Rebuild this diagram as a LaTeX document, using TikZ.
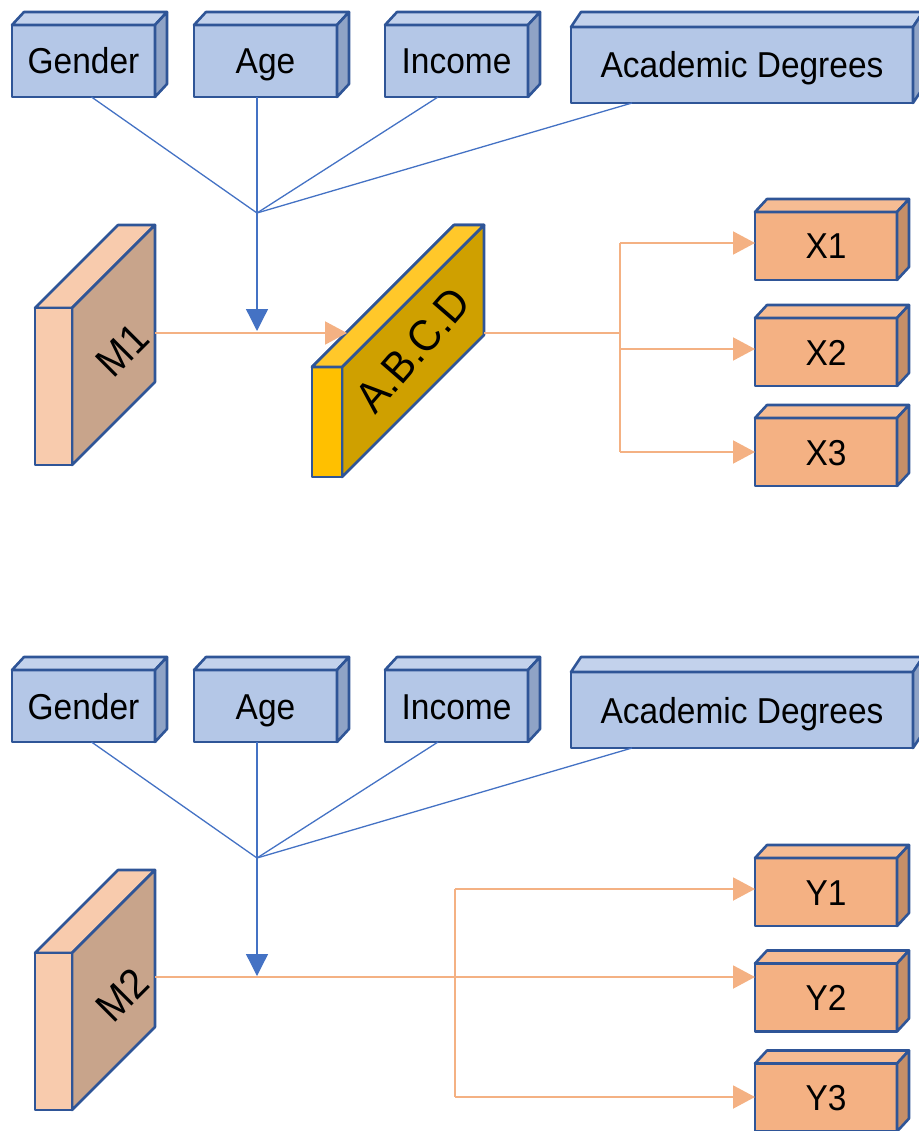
\documentclass[tikz,border=0pt]{standalone}
\usepackage{fontspec}
\setmainfont[FakeStretch=0.93]{Liberation Sans}
\usetikzlibrary{arrows.meta,calc}

\definecolor{rim}{HTML}{2F5597}
\definecolor{bfront}{HTML}{B4C7E7}
\definecolor{btop}{HTML}{C3D2EC}
\definecolor{bside}{HTML}{8FA3C6}
\definecolor{ofront}{HTML}{F4B183}
\definecolor{otop}{HTML}{F6BC93}
\definecolor{oside}{HTML}{C68F68}
\definecolor{mfront}{HTML}{F8CBAD}
\definecolor{mside}{HTML}{C8A48B}
\definecolor{yfront}{HTML}{FFC000}
\definecolor{ytop}{HTML}{FFC82A}
\definecolor{yside}{HTML}{CFA000}
\definecolor{wire}{HTML}{4472C4}
\definecolor{flow}{HTML}{F4B183}

\tikzset{
  x=1pt, y=-1pt,
  edge/.style={draw=rim, line width=2.6pt, line join=round},
  face/.style={edge, rectangle, outer sep=0pt, inner sep=0pt,
    text height=26pt, text depth=0pt,
    font=\fontsize{36}{40}\selectfont},
  factor/.style={face, fill=bfront, minimum height=72pt},
  target/.style={face, fill=ofront, minimum width=142pt, minimum height=68pt},
  slabtext/.style={inner sep=0pt},
  feed/.style={draw=wire, line width=1.3pt},
  feedarrow/.style={feed, -{Triangle[length=22pt,width=22pt]}},
  path/.style={draw=flow, line width=2pt},
  patharrow/.style={path, -{Triangle[length=22pt,width=23pt]}},
}

% top and right faces of a box whose front face is node #1
\newcommand\boxsides[5]{%
  \filldraw[edge, fill=#4] (#1.north west) -- ++(#2,-#3)
    -- ($(#1.north east)+(#2,-#3)$) -- (#1.north east) -- cycle;
  \filldraw[edge, fill=#5] (#1.north east) -- ($(#1.north east)+(#2,-#3)$)
    -- ($(#1.south east)+(#2,-#3)$) -- (#1.south east) -- cycle;
}

% row of demographic factors feeding one hub; #1 prefix, #2 vertical offset
\newcommand\factorrow[2]{%
  \node[factor, minimum width=143pt] (#1gender) at (83.5,61+#2) {Gender};
  \boxsides{#1gender}{12}{13}{btop}{bside}
  \node[factor, minimum width=143pt] (#1age) at (265.5,61+#2) {Age\hspace{16pt}};
  \boxsides{#1age}{12}{13}{btop}{bside}
  \node[factor, minimum width=143pt] (#1income) at (456.5,61+#2) {Income};
  \boxsides{#1income}{12}{13}{btop}{bside}
  \node[factor, minimum width=342pt, minimum height=76pt] (#1degree) at (742,65+#2) {Academic Degrees\hspace{14pt}};
  \boxsides{#1degree}{10}{15}{btop}{bside}
  \coordinate (#1hub) at (257,213+#2);
  \coordinate (#1drop) at (257,331+#2);
  \draw[feed] ($(#1gender.south)+(8,0)$) -- (#1hub);
  \draw[feed] ($(#1age.south)+(-8.5,0)$) -- (#1hub);
  \draw[feed] ($(#1income.south)+(-18.5,0)$) -- (#1hub);
  \draw[feed] ($(#1degree.south)+(-110,0)$) -- (#1hub);
  \draw[feedarrow] (#1hub) -- (#1drop);
}

% slanted slab: front x1 x2, y1 y2, depth, top/front fill, side fill
\newcommand\slab[7]{%
  \filldraw[edge, fill=#6] (#1,#3) -- ++(#5,-#5) -- (#2+#5,#3-#5) -- (#2,#3) -- cycle;
  \filldraw[edge, fill=#7] (#2,#3) -- (#2+#5,#3-#5) -- (#2+#5,#4-#5) -- (#2,#4) -- cycle;
  \filldraw[edge, fill=#6] (#1,#3) rectangle (#2,#4);
}

\begin{document}
\begin{tikzpicture}
\useasboundingbox (0,0) rectangle (918,1131);

% ---------------- upper model ----------------
\factorrow{a}{0}

\slab{35}{72}{308}{465}{83}{mfront}{mside}
\node[slabtext, font=\fontsize{42}{46}\selectfont, rotate=45] (m1) at (122,350) {M1};

\slab{312}{342}{367}{477}{142}{yfront}{yside}
\filldraw[edge, fill=ytop] (312,367) -- (454,225) -- (484,225) -- (342,367) -- cycle;
\node[slabtext, font=\fontsize{44}{48}\selectfont, rotate=49] (abcd) at (413,350) {A.B.C.D};

\node[target] (x1) at (826,246) {X1};
\boxsides{x1}{12}{13}{otop}{oside}
\node[target] (x2) at (826,352) {X2};
\boxsides{x2}{12}{13}{otop}{oside}
\node[target] (x3) at (826,452) {X3};
\boxsides{x3}{12}{13}{otop}{oside}

\coordinate (m1out) at (155,333);
\coordinate (abcdin) at (347,333);
\coordinate (abcdout) at (484,333);
\coordinate (split) at (620,333);
\draw[patharrow] (m1out) -- (abcdin);
\draw[path] (abcdout) -- (split);
\draw[path] (split |- 0,243) -- (split |- 0,452);
\draw[patharrow] (620,243) -- (x1.west |- 0,243);
\draw[patharrow] (620,349) -- (x2.west |- 0,349);
\draw[patharrow] (620,452) -- (x3.west |- 0,452);

% ---------------- lower model ----------------
\factorrow{b}{645}

\slab{35}{72}{953}{1110}{83}{mfront}{mside}
\node[slabtext, font=\fontsize{42}{46}\selectfont, rotate=45] (m2) at (122,995) {M2};

\node[target] (y1) at (826,892) {Y1};
\boxsides{y1}{12}{13}{otop}{oside}
\node[target] (y2) at (826,997.5) {Y2};
\boxsides{y2}{12}{13}{otop}{oside}
\node[target] (y3) at (826,1097.5) {Y3};
\boxsides{y3}{12}{13}{otop}{oside}

\coordinate (m2out) at (155,977);
\coordinate (split2) at (455,977);
\draw[path, line width=2.6pt] (m2out) -- (split2);
\draw[path] (455,889) -- (455,1097);
\draw[patharrow] (split2) -- (y2.west |- 0,977);
\draw[patharrow] (455,889) -- (y1.west |- 0,889);
\draw[patharrow] (455,1097) -- (y3.west |- 0,1097);
\end{tikzpicture}
\end{document}
